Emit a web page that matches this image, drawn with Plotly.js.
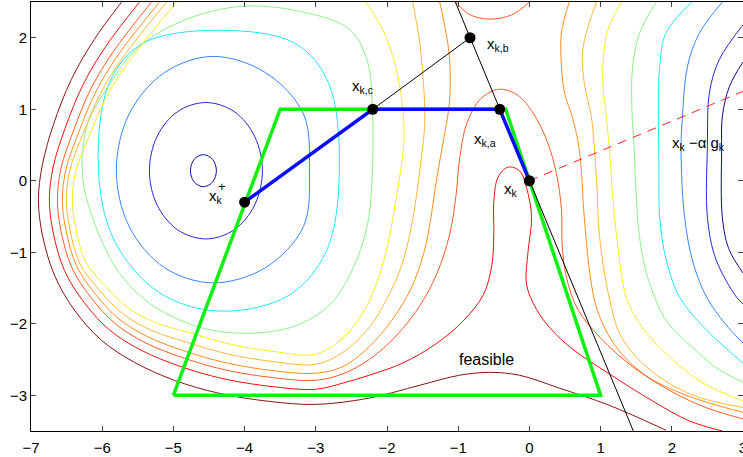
<!DOCTYPE html>
<html><head><meta charset="utf-8">
<script src="https://cdn.plot.ly/plotly-3.0.1.min.js"></script>
<style>html,body{margin:0;padding:0;background:#fff}#plot{width:743px;height:457px}</style>
</head><body><div id="plot"></div>
<script>
// contour level colours (low -> high)
const levelColors = ['#0a0a9a','#2626d8','#3385ff','#22e4ff','#8cf08c','#f0f020','#ffb833','#ff8c1a','#ff5a28','#ff2a1a','#ee1010','#8a1515'];

// traced contour lines (x, y in data units)
const c1L_x = [-4.579,-4.449,-4.396,-4.449,-4.579,-4.708,-4.761,-4.708,-4.579];
const c1L_y = [0.365,0.299,0.140,-0.018,-0.084,-0.018,0.140,0.299,0.365];
const c1R_x = [3.0,2.81,2.71,2.70,2.71,2.80,3.0];
const c1R_y = [1.66,1.32,0.9,0.44,-0.51,-0.95,-1.29];
const c2L_x = [-4.543,-4.146,-3.857,-3.750,-3.857,-4.146,-4.543,-4.941,-5.230,-5.337,-5.230,-4.941,-4.543];
const c2L_y = [1.094,0.967,0.617,0.140,-0.337,-0.686,-0.814,-0.686,-0.337,0.140,0.617,0.967,1.094];
const c2R_x = [3.0,2.67,2.53,2.50,2.50,2.62,2.91,3.0];
const c2R_y = [2.18,1.7,1.24,0.48,-0.51,-1.1,-1.63,-1.72];
const c3L_x = [-4.445,-3.708,-3.174,-3.090,-3.174,-3.708,-4.445,-5.124,-5.620,-5.801,-5.620,-5.124,-4.445];
const c3L_y = [1.739,1.513,0.937,0.147,-0.642,-1.216,-1.428,-1.216,-0.642,0.147,0.937,1.513,1.739];
const c3R_x = [2.71,2.39,2.22,2.15,2.13,2.18,2.3,2.49,2.75,3.0];
const c3R_y = [2.5,2.07,1.6,0.9,0.44,-0.51,-1.15,-1.63,-2.0,-2.27];
const c4L_x = [-4.361,-3.295,-2.825,-2.669,-2.853,-3.389,-4.361,-5.206,-5.827,-6.053,-5.897,-5.427,-4.361];
const c4L_y = [2.104,1.923,1.377,0.140,-0.987,-1.609,-1.823,-1.560,-0.842,0.140,1.377,1.923,2.104];
const c4R_x = [2.28,1.92,1.83,1.81,1.82,1.83,1.92,2.11,2.45,2.77,3.0];
const c4R_y = [2.5,2.07,1.6,0.9,0.2,-0.51,-1.1,-1.63,-2.05,-2.35,-2.55];
const c5L_x = [-4.031,-3.230,-2.528,-2.275,-2.205,-2.205,-2.275,-2.500,-2.809,-3.301,-3.933,-4.635,-5.337,-5.787,-6.124,-6.278,-6.208,-5.899,-5.478,-4.817,-4.031];
const c5L_y = [2.440,2.370,2.118,1.669,0.996,0.154,-0.617,-1.276,-1.739,-2.034,-2.132,-2.048,-1.711,-1.248,-0.547,0.084,0.785,1.346,1.879,2.258,2.440];
const c5R_x = [1.78,1.55,1.45,1.44,1.47,1.5,1.54,1.62,1.76,1.95,2.29,2.6,3.0];
const c5R_y = [2.5,2.07,1.6,1.0,0.48,-0.2,-0.73,-1.2,-1.63,-2.0,-2.33,-2.6,-2.82];
const c6L_x = [-4.958,-5.625,-5.935,-6.185,-6.372,-6.419,-6.372,-6.232,-5.944,-5.628,-5.246,-4.747,-4.199,-3.574,-3.006,-2.62,-2.3,-2.1,-1.97,-1.88,-1.8,-1.76,-1.79,-1.88,-2.06,-2.3];
const c6L_y = [2.496,1.666,1.180,0.617,0.129,-0.266,-0.658,-1.132,-1.484,-1.783,-1.987,-2.132,-2.286,-2.391,-2.426,-2.2,-1.78,-1.3,-0.8,-0.3,0.2,0.6,1.1,1.6,2.12,2.5];
const c6R_x = [1.29,1.1,1.05,1.03,1.08,1.12,1.17,1.22,1.36,1.55,1.83,2.39,3.0];
const c6R_y = [2.5,2.1,1.84,1.37,0.9,0.48,-0.2,-0.73,-1.63,-2.0,-2.33,-2.8,-3.08];
const c7L_x = [-5.098,-5.712,-6.024,-6.274,-6.455,-6.503,-6.455,-6.309,-6.027,-5.701,-5.305,-4.795,-4.230,-3.590,-3.006,-2.62,-2.25,-2.0,-1.8,-1.68,-1.6,-1.52,-1.47,-1.49,-1.55,-1.64];
const c7L_y = [2.496,1.722,1.222,0.647,0.146,-0.266,-0.675,-1.166,-1.544,-1.868,-2.094,-2.264,-2.424,-2.530,-2.567,-2.4,-2.05,-1.65,-1.2,-0.75,-0.3,0.3,0.8,1.4,2.0,2.5];
const c7R_x = [0.94,0.75,0.77,0.87,0.91,0.95,0.98,1.12,1.3,1.7,2.3,3.0];
const c7R_y = [2.5,1.84,1.37,0.9,0.48,-0.1,-0.73,-1.63,-2.2,-2.65,-3.0,-3.17];
const c8L_x = [-5.197,-5.774,-6.086,-6.334,-6.510,-6.559,-6.510,-6.361,-6.091,-5.760,-5.354,-4.838,-4.258,-3.604,-3.006,-2.62,-2.25,-1.93,-1.66,-1.48,-1.38,-1.3,-1.2,-1.12,-1.13,-1.26];
const c8L_y = [2.496,1.762,1.251,0.668,0.157,-0.266,-0.687,-1.187,-1.592,-1.937,-2.184,-2.383,-2.547,-2.655,-2.693,-2.6,-2.32,-1.95,-1.5,-1.0,-0.5,0.05,0.6,1.14,1.8,2.5];
const c8R_x = [0.56,0.45,0.45,0.5,0.6,0.7,0.77,0.85,0.95,1.2,1.6,2.2,3.0];
const c8R_y = [2.5,2.07,1.6,1.2,0.9,0.44,-0.5,-1.3,-1.8,-2.3,-2.7,-3.0,-3.24];
const c9M_x = [-5.309,-5.844,-6.159,-6.407,-6.579,-6.629,-6.579,-6.426,-6.154,-5.815,-5.397,-4.871,-4.279,-3.615,-3.006,-2.62,-2.25,-1.9,-1.56,-1.3,-1.12,-1.03,-0.98,-0.88,-0.68,-0.42,-0.17,0.05,0.25,0.38,0.45,0.46,0.52,0.68,1.0,1.45,2.0,2.5,3.0];
const c9M_y = [2.496,1.806,1.286,0.691,0.171,-0.266,-0.701,-1.215,-1.638,-2.001,-2.264,-2.474,-2.644,-2.752,-2.791,-2.7,-2.5,-2.2,-1.78,-1.3,-0.75,-0.2,0.3,0.8,1.15,1.28,1.2,0.95,0.55,0.1,-0.4,-0.9,-1.35,-1.8,-2.2,-2.6,-2.95,-3.18,-3.33];
const c9T_x = [-1.03,-0.85,-0.56,-0.25,0.0];
const c9T_y = [2.5,2.33,2.26,2.32,2.5];
const c11M_x = [-5.478,-5.951,-6.271,-6.522,-6.688,-6.742,-6.688,-6.529,-6.250,-5.892,-5.455,-4.914,-4.308,-3.628,-3.006,-2.62,-2.25,-1.78,-1.31,-0.92,-0.65,-0.53,-0.5,-0.5,-0.44,-0.3,-0.14,-0.04,0.03,-0.02,-0.04,0.1,0.3,0.6,1.12,1.73,2.25,2.71];
const c11M_y = [2.496,1.877,1.339,0.731,0.194,-0.266,-0.725,-1.258,-1.707,-2.091,-2.369,-2.593,-2.767,-2.877,-2.917,-2.83,-2.72,-2.55,-2.28,-1.95,-1.6,-1.2,-0.75,-0.3,0.05,0.19,0.14,-0.1,-0.5,-1.0,-1.45,-1.8,-2.07,-2.35,-2.7,-3.08,-3.36,-3.5];
const c12M_x = [-5.730,-6.110,-6.433,-6.685,-6.840,-6.896,-6.840,-6.671,-6.390,-6.011,-5.548,-4.986,-4.354,-3.652,-3.006,-2.25,-1.54,-0.98,-0.56,-0.14,0.42,1.12,1.92];
const c12M_y = [2.496,1.978,1.417,0.785,0.224,-0.266,-0.757,-1.318,-1.809,-2.230,-2.539,-2.791,-2.973,-3.086,-3.128,-3.04,-2.86,-2.72,-2.68,-2.72,-2.9,-3.14,-3.49];

// iterate construction
const feasX = [-5, -3.5, -0.333, 1, -5];
const feasY = [-3, 1, 1, -3, -3];
const pathX = [0, -0.417, -2.2, -4.0];
const pathY = [0, 1, 1, -0.3];
const tanX = [-1.04, 1.46];
const tanY = [2.5, -3.5];
const segX = [-2.2, -0.834];
const segY = [1, 2];
const gradX = [0, 3];
const gradY = [0, 1.25];
const ptX = [0, -0.417, -0.834, -2.2, -4.0];
const ptY = [0, 1, 2, 1, -0.3];

const xTicks = [-7,-6,-5,-4,-3,-2,-1,0,1,2,3];
const yTicks = [-3,-2,-1,0,1,2];

const curves = [
  [c1L_x,c1L_y,0],[c1R_x,c1R_y,0],[c2L_x,c2L_y,1],[c2R_x,c2R_y,1],
  [c3L_x,c3L_y,2],[c3R_x,c3R_y,2],[c4L_x,c4L_y,3],[c4R_x,c4R_y,3],
  [c5L_x,c5L_y,4],[c5R_x,c5R_y,4],[c6L_x,c6L_y,5],[c6R_x,c6R_y,5],
  [c7L_x,c7L_y,6],[c7R_x,c7R_y,6],[c8L_x,c8L_y,7],[c8R_x,c8R_y,7],
  [c9M_x,c9M_y,8],[c9T_x,c9T_y,8],[c11M_x,c11M_y,10],[c12M_x,c12M_y,11]
];
const traces = curves.map(c => ({
  type:'scatter', mode:'lines', x:c[0], y:c[1], hoverinfo:'skip',
  line:{color:levelColors[c[2]], width:1, shape:'spline', smoothing:1}
}));
traces.push({type:'scatter',mode:'lines',x:segX,y:segY,line:{color:'#000',width:1}});
traces.push({type:'scatter',mode:'lines',x:feasX,y:feasY,line:{color:'#10f010',width:3.5}});
traces.push({type:'scatter',mode:'lines',x:tanX,y:tanY,line:{color:'#000',width:1}});
traces.push({type:'scatter',mode:'lines',x:pathX,y:pathY,line:{color:'#0a0aff',width:3.5}});
traces.push({type:'scatter',mode:'lines',x:gradX,y:gradY,line:{color:'#ff2020',width:1,dash:'9px,7px'}});
traces.push({type:'scatter',mode:'markers',x:ptX,y:ptY,marker:{color:'#000',size:11}});

const F = 'Liberation Sans, Arial, Helvetica, sans-serif';
const ann = (x,y,t,s) => ({x:x,y:y,xref:'x',yref:'y',text:t,showarrow:false,xanchor:'left',yanchor:'middle',font:{family:F,size:s||15,color:'#000'}});
const axisBase = {ticks:'inside', ticklen:5, mirror:'ticks', showline:true, linecolor:'#000', linewidth:1, showgrid:false, zeroline:false, ticklabeloverflow:'allow', tickfont:{family:F,size:15,color:'#000'}};
const layout = {
  width:743, height:457, margin:{l:31,r:0,t:2,b:26},
  paper_bgcolor:'#fff', plot_bgcolor:'#fff', showlegend:false,
  xaxis:Object.assign({range:[-7,3], tickvals:xTicks, ticklabelstandoff:3}, axisBase),
  yaxis:Object.assign({range:[-3.5,2.5], tickvals:yTicks}, axisBase),
  annotations:[
    ann(-0.63,1.9,'x<sub>k,b</sub>'),
    ann(-2.52,1.32,'x<sub>k,c</sub>'),
    ann(-0.80,0.58,'x<sub>k,a</sub>'),
    ann(-0.38,-0.12,'x<sub>k</sub>'),
    ann(-4.53,-0.22,'x<sub>k</sub>'),
    ann(-4.40,-0.08,'+',13),
    ann(1.97,0.52,'x<sub>k</sub> −α g<sub>k</sub>'),
    ann(-1.01,-2.5,'feasible',16)
  ]
};
Plotly.newPlot('plot', traces, layout, {staticPlot:true});
</script></body></html>
